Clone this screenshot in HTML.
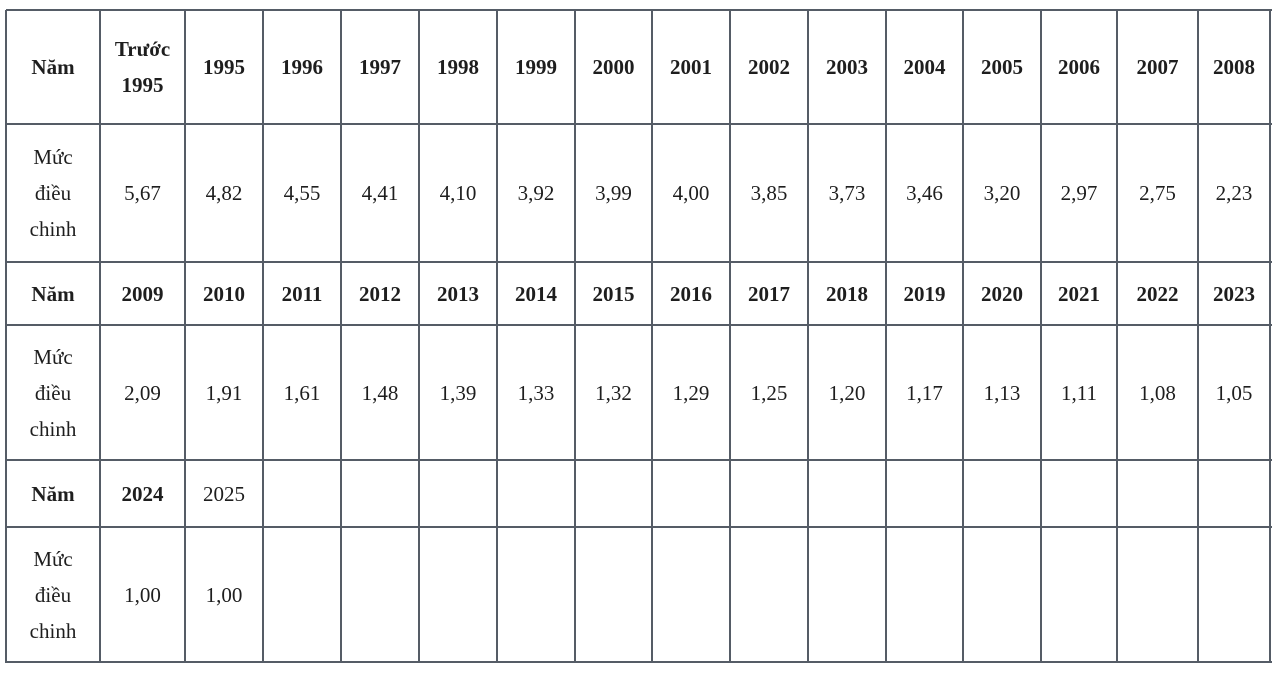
<!DOCTYPE html>
<html><head><meta charset="utf-8"><style>
body{margin:0;width:1280px;height:674px;background:#fff;position:relative;overflow:hidden;font-family:"Liberation Serif",serif;color:#1e1e1e}
.h{position:absolute;height:2px;background:#555c66}
.v{position:absolute;width:2px;background:#555c66}
.t{position:absolute;text-align:center;font-size:21px;line-height:36px;transform:translate(-50%,-50%);white-space:nowrap}
.b{font-weight:bold}
</style></head><body>
<div id="g"></div>
<script>
var xs=[6,100,185,263,341,419,497,575,652,730,808,886,963,1041,1117,1198,1270];
var ys=[10,124,262,325,460,527,662];
var g=document.body,h='';
ys.forEach(function(y){h+='<div class="h" style="left:6px;width:1266px;top:'+(y-1)+'px"></div>'});
xs.forEach(function(x){h+='<div class="v" style="top:10px;height:653px;left:'+(x-1)+'px"></div>'});
function cell(ci,ri,txt,bold){var cx=(xs[ci]+xs[ci+1])/2,cy=(ys[ri]+ys[ri+1])/2;
h+='<div class="t'+(bold?' b':'')+'" style="left:'+cx+'px;top:'+cy+'px">'+txt+'</div>';}
var r1=['Năm','Trước<br>1995','1995','1996','1997','1998','1999','2000','2001','2002','2003','2004','2005','2006','2007','2008'];
var v1=['5,67','4,82','4,55','4,41','4,10','3,92','3,99','4,00','3,85','3,73','3,46','3,20','2,97','2,75','2,23'];
var r2=['Năm','2009','2010','2011','2012','2013','2014','2015','2016','2017','2018','2019','2020','2021','2022','2023'];
var v2=['2,09','1,91','1,61','1,48','1,39','1,33','1,32','1,29','1,25','1,20','1,17','1,13','1,11','1,08','1,05'];
var lab='Mức<br>điều<br>chinh';
r1.forEach(function(t,i){cell(i,0,t,true)});
cell(0,1,lab,false);v1.forEach(function(t,i){cell(i+1,1,t,false)});
r2.forEach(function(t,i){cell(i,2,t,true)});
cell(0,3,lab,false);v2.forEach(function(t,i){cell(i+1,3,t,false)});
cell(0,4,'Năm',true);cell(1,4,'2024',true);cell(2,4,'2025',false);
cell(0,5,lab,false);cell(1,5,'1,00',false);cell(2,5,'1,00',false);
g.insertAdjacentHTML('beforeend',h);
</script>
</body></html>
